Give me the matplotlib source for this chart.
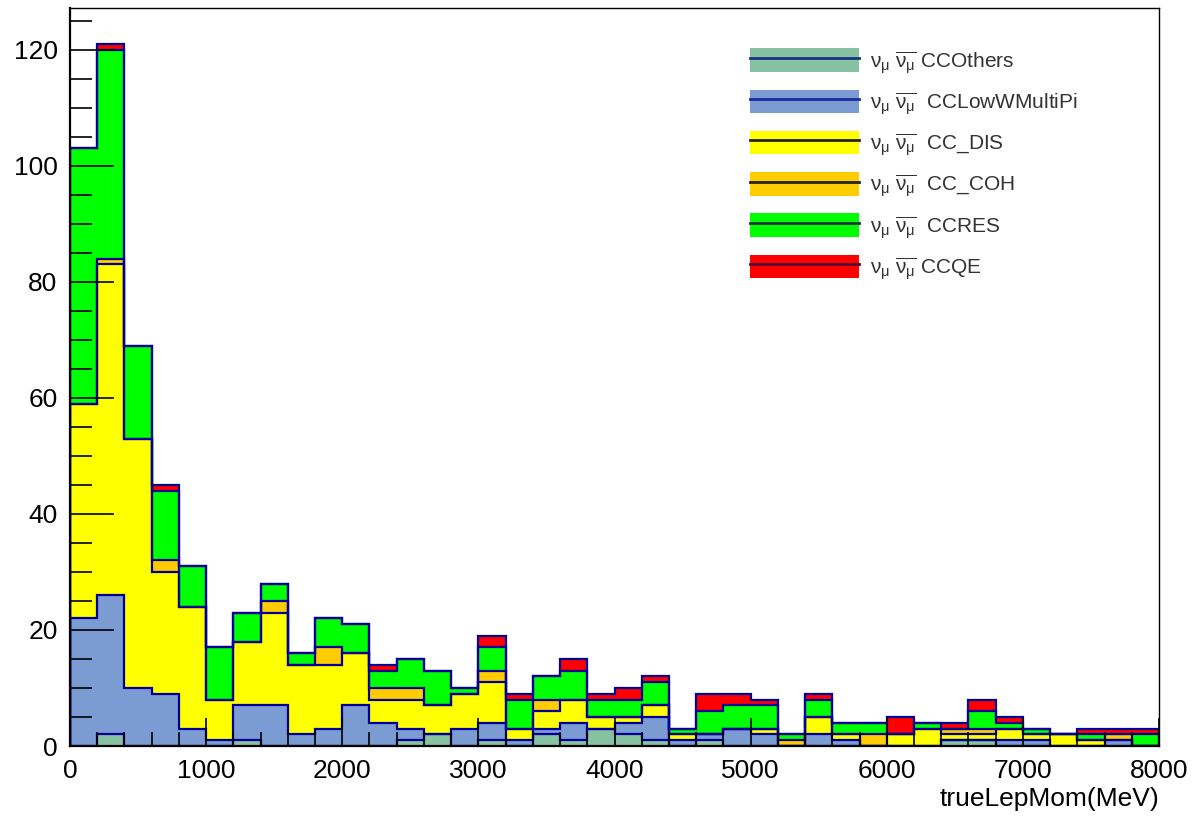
import numpy as np
import matplotlib
matplotlib.use("Agg")
import matplotlib.pyplot as plt
from matplotlib.patches import Patch
from matplotlib.lines import Line2D
from matplotlib.ticker import MultipleLocator

plt.rcParams['font.family'] = ['Liberation Sans', 'DejaVu Sans']
plt.rcParams['mathtext.fontset'] = 'custom'
plt.rcParams['mathtext.rm'] = 'Liberation Sans'
plt.rcParams['mathtext.it'] = 'Liberation Sans'

# 40 bins of 200 MeV, 0 - 8000
edges = np.linspace(0, 8000, 41)

# event counts per bin, bottom of the stack first
cc_others = [0, 2, 0, 0, 0, 0, 1, 0, 0, 0, 0, 0, 1, 2, 0, 1, 0, 2, 1, 3,
             2, 1, 0, 1, 0, 0, 0, 0, 0, 0, 0, 0, 1, 1, 0, 0, 0, 0, 0, 0]
cc_lowwmultipi = [22, 24, 10, 9, 3, 1, 6, 7, 2, 3, 7, 4, 2, 0, 3, 3, 1, 1, 3, 0,
                  2, 4, 1, 1, 3, 2, 0, 2, 1, 0, 0, 0, 0, 0, 1, 1, 0, 0, 1, 0]
cc_dis = [37, 57, 43, 21, 21, 7, 11, 16, 12, 11, 9, 4, 5, 5, 6, 7, 2, 3, 4, 2,
          1, 2, 1, 0, 0, 1, 0, 3, 1, 0, 2, 3, 1, 1, 2, 1, 2, 1, 0, 0]
cc_coh = [0, 1, 0, 2, 0, 0, 0, 2, 0, 3, 0, 2, 2, 0, 0, 2, 0, 2, 0, 0,
          0, 0, 0, 0, 0, 0, 1, 0, 0, 2, 0, 0, 1, 1, 0, 0, 0, 0, 1, 0]
cc_res = [44, 36, 16, 12, 7, 9, 5, 3, 2, 5, 5, 3, 5, 6, 1, 4, 5, 4, 5, 3,
          3, 4, 1, 4, 4, 4, 1, 3, 2, 2, 0, 1, 0, 3, 1, 1, 0, 1, 0, 2]
cc_qe = [0, 1, 0, 1, 0, 0, 0, 0, 0, 0, 0, 1, 0, 0, 0, 2, 1, 0, 2, 1,
         2, 1, 0, 3, 2, 1, 0, 1, 0, 0, 3, 0, 1, 2, 1, 0, 0, 1, 1, 1]

names = [' CCOthers', '  CCLowWMultiPi', '  CC_DIS', '  CC_COH', '  CCRES', ' CCQE']
series = [cc_others, cc_lowwmultipi, cc_dis, cc_coh, cc_res, cc_qe]
colors = ['#86c1a2', '#7b9bd3', '#ffff00', '#ffcc00', '#00ff00', '#ff0000']
leg_lines = ['#1a3380', '#1a2a99', '#222222', '#222222', '#113344', '#550033']
edge_col = '#000099'

fig = plt.figure(figsize=(11.95, 8.17), dpi=100)
ax = fig.add_axes([70 / 1195, 1 - 746 / 817, 1089 / 1195, 738 / 817])

# THStack style: draw cumulative sums, largest first
cum = np.cumsum(np.array(series, dtype=float), axis=0)
for i in range(len(series) - 1, -1, -1):
    ax.stairs(cum[i], edges, baseline=0, fill=True, facecolor=colors[i],
              edgecolor='none', zorder=1 + (5 - i) * 0.01)
for i in range(len(series) - 1, -1, -1):
    ax.stairs(cum[i], edges, baseline=0, fill=False, color=edge_col,
              linewidth=1.6, zorder=2)

ax.set_xlim(0, 8000)
ax.set_ylim(0, 127.2)
ax.xaxis.set_major_locator(MultipleLocator(1000))
ax.xaxis.set_minor_locator(MultipleLocator(200))
ax.yaxis.set_major_locator(MultipleLocator(20))
ax.yaxis.set_minor_locator(MultipleLocator(5))
ax.tick_params(which='both', direction='in', top=False, right=False,
               labelsize=19, color='black', width=1.2)
ax.tick_params(axis='y', which='major', length=32, pad=9)
ax.tick_params(axis='y', which='minor', length=16)
ax.tick_params(axis='x', which='major', length=20, pad=9)
ax.tick_params(axis='x', which='minor', length=10)
ax.set_axisbelow(False)
for s in ['left', 'bottom']:
    ax.spines[s].set_linewidth(1.6)
for s in ['top', 'right']:
    ax.spines[s].set_linewidth(1.0)

ax.set_xlabel('trueLepMom(MeV)', fontsize=19, loc='right', labelpad=3)

handles = []
labels = []
for i in range(len(series)):
    handles.append((Patch(facecolor=colors[i], edgecolor='none'),
                    Line2D([], [], color=leg_lines[i], lw=2)))
    labels.append(r'$\nu_{\mu}\ \overline{\nu_{\mu}}$' + names[i])
ax.legend(handles, labels, loc='upper left',
          bbox_to_anchor=(740 / 1195, 1 - 38 / 817), bbox_transform=fig.transFigure,
          frameon=False, fontsize=15, borderpad=0, handlelength=5.2,
          handleheight=1.35, labelspacing=0.68, handletextpad=0.55,
          labelcolor='#333333')

fig.savefig('out.png', dpi=100)
